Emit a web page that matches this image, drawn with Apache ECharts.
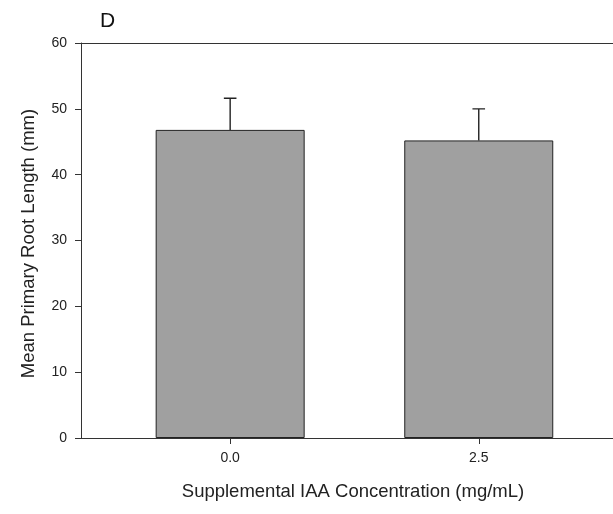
<!DOCTYPE html>
<html>
<head>
<meta charset="utf-8">
<script src="https://cdn.jsdelivr.net/npm/echarts@6/dist/echarts.min.js"></script>
<style>html,body{margin:0;padding:0;background:#fff;}#c{width:613px;height:514px;}</style>
</head>
<body>
<div id="c"></div>
<script>
var concentrations = [0, 2.5];
var meanLengths = [46.8, 45.2];
var errorTops = [51.6, 50.0];

var chart = echarts.init(document.getElementById('c'), null, {renderer: 'canvas'});
var font = '"Liberation Sans", Arial, sans-serif';
var axisColor = '#333';
var xMin = -1.5, xMax = 3.85;
var option = {
  animation: false,
  backgroundColor: '#fff',
  title: {text: 'D', left: 100, top: 11, padding: 0, textStyle: {fontFamily: font, fontSize: 21, fontWeight: 'normal', color: '#111'}},
  grid: {left: 81, top: 43, right: 0, bottom: 76, show: false},
  xAxis: [{
    type: 'value', min: xMin, max: xMax,
    name: 'Supplemental IAA Concentration (mg/mL)', nameLocation: 'middle', nameGap: 44,
    nameTextStyle: {fontFamily: font, fontSize: 18.5, color: '#222', padding: [0, 0, 0, 12]},
    splitLine: {show: false},
    axisLine: {onZero: false, lineStyle: {color: axisColor, width: 1}},
    axisTick: {customValues: concentrations, length: 6, lineStyle: {color: axisColor}},
    axisLabel: {customValues: concentrations, formatter: function (v) { return v.toFixed(1); }, margin: 13, fontFamily: font, fontSize: 14, color: '#222'}
  }, {
    type: 'value', min: xMin, max: xMax, position: 'top',
    splitLine: {show: false},
    axisLine: {show: true, onZero: false, lineStyle: {color: axisColor, width: 1}},
    axisTick: {show: false}, axisLabel: {show: false}
  }],
  yAxis: {
    type: 'value', min: 0, max: 60, interval: 10,
    name: 'Mean Primary Root Length (mm)', nameLocation: 'middle', nameGap: 43,
    nameTextStyle: {fontFamily: font, fontSize: 18.5, color: '#222', padding: [0, 6, 0, 0]},
    splitLine: {show: false},
    axisLine: {show: true, onZero: false, lineStyle: {color: axisColor, width: 1}},
    axisTick: {show: true, length: 6, lineStyle: {color: axisColor}},
    axisLabel: {margin: 14, fontFamily: font, fontSize: 14, color: '#222'}
  },
  series: [
    {
      type: 'bar',
      data: concentrations.map(function (c, i) { return [c, meanLengths[i]]; }),
      barWidth: 149,
      itemStyle: {color: '#a0a0a0', borderColor: '#222', borderWidth: 1}
    },
    {
      type: 'custom',
      dimensions: ['x', 'mean', 'top'],
      encode: {x: 0, y: [1, 2]},
      data: concentrations.map(function (c, i) { return [c, meanLengths[i], errorTops[i]]; }),
      renderItem: function (params, api) {
        var x = api.value(0);
        var base = api.coord([x, api.value(1)]);
        var top = api.coord([x, api.value(2)]);
        var hw = 6.3;
        return {
          type: 'polyline',
          shape: {points: [[base[0], base[1]], [top[0], top[1]], [top[0] - hw, top[1]], [top[0] + hw, top[1]]]},
          style: {stroke: '#222', lineWidth: 1.4, fill: null}
        };
      },
      z: 5
    }
  ]
};
chart.setOption(option);
</script>
</body>
</html>
